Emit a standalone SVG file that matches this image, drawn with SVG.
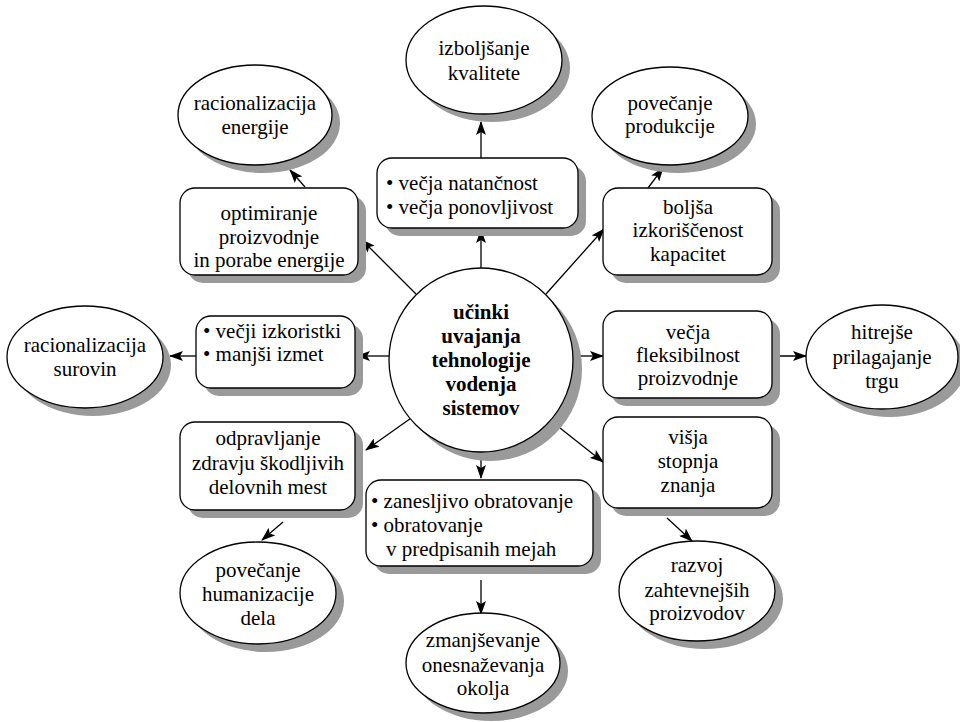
<svg xmlns="http://www.w3.org/2000/svg" width="960" height="722" viewBox="0 0 960 722" style="font-family:'Liberation Serif',serif;font-size:21px">
<defs>
<marker id="ah" markerWidth="14" markerHeight="10" refX="13" refY="5" orient="auto" markerUnits="userSpaceOnUse">
<path d="M0,0 L14,5 L0,10 L3,5 Z" fill="#000"/>
</marker>
</defs>
<rect width="960" height="722" fill="#fff"/>
<g id="connectors" stroke="#000" stroke-width="1.3" marker-end="url(#ah)">
<line x1="481" y1="268" x2="481" y2="230"/>
<line x1="481" y1="158" x2="481" y2="122"/>
<line x1="416" y1="294" x2="362" y2="240"/>
<line x1="305" y1="187" x2="290" y2="170"/>
<line x1="546" y1="294" x2="604" y2="229"/>
<line x1="648" y1="188" x2="663" y2="168"/>
<line x1="389" y1="356" x2="357" y2="356"/>
<line x1="196" y1="356" x2="170" y2="356"/>
<line x1="573" y1="356" x2="603" y2="356"/>
<line x1="772" y1="356" x2="806" y2="356"/>
<line x1="414" y1="416" x2="366" y2="450"/>
<line x1="283" y1="522" x2="262" y2="540"/>
<line x1="481" y1="455" x2="481" y2="478"/>
<line x1="481" y1="580" x2="481" y2="614"/>
<line x1="560" y1="428" x2="603" y2="462"/>
<line x1="667" y1="518" x2="692" y2="541"/>
</g>
<g id="center" text-anchor="middle" font-weight="bold">
<circle fill="#9a9a9a" cx="490" cy="369" r="92"/>
<circle fill="#fff" stroke="#000" stroke-width="1.3" cx="481" cy="360" r="92"/>
<text x="481" y="319">učinki</text>
<text x="481" y="343">uvajanja</text>
<text x="481" y="367">tehnologije</text>
<text x="481" y="391">vodenja</text>
<text x="481" y="415">sistemov</text>
</g>
<g id="box-top">
<rect fill="#9a9a9a" x="385" y="166" width="201" height="70" rx="15"/>
<rect fill="#fff" stroke="#000" stroke-width="1.3" x="377" y="158" width="201" height="70" rx="15"/>
<text x="386" y="190">• večja natančnost</text>
<text x="386" y="214">• večja ponovljivost</text>
</g>
<g id="ell-kval" text-anchor="middle">
<ellipse fill="#9a9a9a" cx="492" cy="68" rx="78" ry="54"/>
<ellipse fill="#fff" stroke="#000" stroke-width="1.3" cx="484" cy="60" rx="78" ry="54"/>
<text x="484" y="55">izboljšanje</text>
<text x="484" y="80">kvalitete</text>
</g>
<g id="box-optim" text-anchor="middle">
<rect fill="#9a9a9a" x="188" y="196" width="178" height="87" rx="15"/>
<rect fill="#fff" stroke="#000" stroke-width="1.3" x="180" y="188" width="178" height="87" rx="15"/>
<text x="269" y="220">optimiranje</text>
<text x="269" y="244">proizvodnje</text>
<text x="269" y="267">in porabe energije</text>
</g>
<g id="ell-energ" text-anchor="middle">
<ellipse fill="#9a9a9a" cx="263" cy="123" rx="77" ry="50"/>
<ellipse fill="#fff" stroke="#000" stroke-width="1.3" cx="255" cy="115" rx="77" ry="50"/>
<text x="255" y="110">racionalizacija</text>
<text x="255" y="134">energije</text>
</g>
<g id="box-bolj" text-anchor="middle">
<rect fill="#9a9a9a" x="611" y="196" width="169" height="87" rx="15"/>
<rect fill="#fff" stroke="#000" stroke-width="1.3" x="603" y="188" width="169" height="87" rx="15"/>
<text x="688" y="214">boljša</text>
<text x="688" y="237">izkoriščenost</text>
<text x="688" y="261">kapacitet</text>
</g>
<g id="ell-prod" text-anchor="middle">
<ellipse fill="#9a9a9a" cx="678" cy="124" rx="78" ry="49"/>
<ellipse fill="#fff" stroke="#000" stroke-width="1.3" cx="670" cy="116" rx="78" ry="49"/>
<text x="670" y="110">povečanje</text>
<text x="670" y="133">produkcije</text>
</g>
<g id="box-left">
<rect fill="#9a9a9a" x="204" y="324" width="159" height="72" rx="15"/>
<rect fill="#fff" stroke="#000" stroke-width="1.3" x="196" y="316" width="159" height="72" rx="15"/>
<text x="203" y="338">• večji izkoristki</text>
<text x="203" y="361">• manjši izmet</text>
</g>
<g id="ell-sur" text-anchor="middle">
<ellipse fill="#9a9a9a" cx="93" cy="365" rx="78" ry="51"/>
<ellipse fill="#fff" stroke="#000" stroke-width="1.3" cx="85" cy="357" rx="78" ry="51"/>
<text x="85" y="352">racionalizacija</text>
<text x="85" y="376">surovin</text>
</g>
<g id="box-flex" text-anchor="middle">
<rect fill="#9a9a9a" x="611" y="319" width="169" height="87" rx="15"/>
<rect fill="#fff" stroke="#000" stroke-width="1.3" x="603" y="311" width="169" height="87" rx="15"/>
<text x="688" y="339">večja</text>
<text x="688" y="362">fleksibilnost</text>
<text x="688" y="385">proizvodnje</text>
</g>
<g id="ell-trg" text-anchor="middle">
<ellipse fill="#9a9a9a" cx="890" cy="365" rx="76" ry="52"/>
<ellipse fill="#fff" stroke="#000" stroke-width="1.3" cx="882" cy="357" rx="76" ry="52"/>
<text x="882" y="339">hitrejše</text>
<text x="882" y="364">prilagajanje</text>
<text x="882" y="388">trgu</text>
</g>
<g id="box-odprav" text-anchor="middle">
<rect fill="#9a9a9a" x="188" y="430" width="175" height="88" rx="15"/>
<rect fill="#fff" stroke="#000" stroke-width="1.3" x="180" y="422" width="175" height="88" rx="15"/>
<text x="268" y="445">odpravljanje</text>
<text x="268" y="470">zdravju škodljivih</text>
<text x="268" y="494">delovnih mest</text>
</g>
<g id="ell-hum" text-anchor="middle">
<ellipse fill="#9a9a9a" cx="266" cy="601" rx="78" ry="51"/>
<ellipse fill="#fff" stroke="#000" stroke-width="1.3" cx="258" cy="593" rx="78" ry="51"/>
<text x="258" y="577">povečanje</text>
<text x="258" y="601">humanizacije</text>
<text x="258" y="625">dela</text>
</g>
<g id="box-bottom">
<rect fill="#9a9a9a" x="374" y="488" width="227" height="86" rx="15"/>
<rect fill="#fff" stroke="#000" stroke-width="1.3" x="366" y="480" width="227" height="86" rx="15"/>
<text x="371" y="508">• zanesljivo obratovanje</text>
<text x="371" y="532">• obratovanje</text>
<text x="386" y="556">v predpisanih mejah</text>
</g>
<g id="ell-okolja" text-anchor="middle">
<ellipse fill="#9a9a9a" cx="491" cy="671" rx="77" ry="50"/>
<ellipse fill="#fff" stroke="#000" stroke-width="1.3" cx="483" cy="663" rx="77" ry="50"/>
<text x="483" y="647">zmanjševanje</text>
<text x="483" y="672">onesnaževanja</text>
<text x="483" y="695">okolja</text>
</g>
<g id="box-visja" text-anchor="middle">
<rect fill="#9a9a9a" x="611" y="425" width="169" height="91" rx="15"/>
<rect fill="#fff" stroke="#000" stroke-width="1.3" x="603" y="417" width="169" height="91" rx="15"/>
<text x="688" y="444">višja</text>
<text x="688" y="468">stopnja</text>
<text x="688" y="492">znanja</text>
</g>
<g id="ell-razvoj" text-anchor="middle">
<ellipse fill="#9a9a9a" cx="705" cy="599" rx="78" ry="50"/>
<ellipse fill="#fff" stroke="#000" stroke-width="1.3" cx="697" cy="591" rx="78" ry="50"/>
<text x="697" y="572">razvoj</text>
<text x="697" y="597">zahtevnejših</text>
<text x="697" y="620">proizvodov</text>
</g>
</svg>
